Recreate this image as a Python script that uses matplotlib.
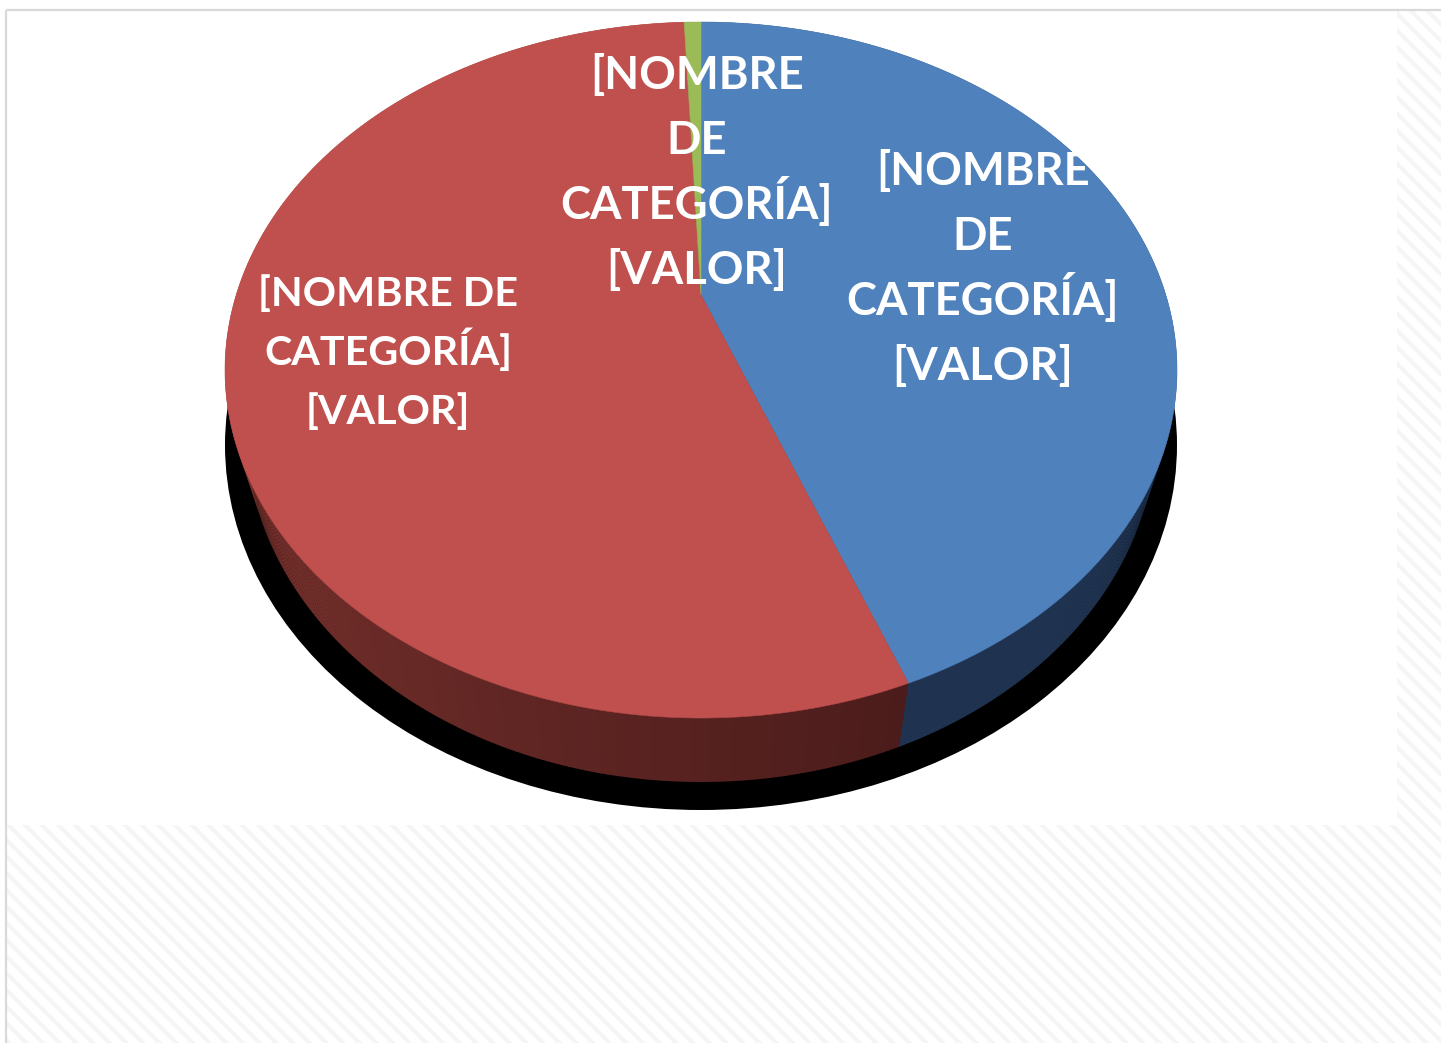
import numpy as np
import matplotlib
matplotlib.use("Agg")
import matplotlib.pyplot as plt
from matplotlib.patches import Ellipse, Polygon, Rectangle
from matplotlib.colors import to_rgb

categories = ["Azul", "Rojo", "Verde"]
values = [44.2, 55.1, 0.7]
colors = ["#4f81bd", "#c0504d", "#9bbb59"]
label_lines = [["[NOMBRE", "DE", "CATEGORÍA]", "[VALOR]"],
               ["[NOMBRE DE", "CATEGORÍA]", "[VALOR]"],
               ["[NOMBRE", "DE", "CATEGORÍA]", "[VALOR]"]]

W, H = 1441, 1043
plt.rcParams['hatch.linewidth'] = 3.0
fig = plt.figure(figsize=(W / 100, H / 100), dpi=100, facecolor="white")

# page background: hatched surround, white chart area, thin grey border
bg = fig.add_axes([0, 0, 1, 1], zorder=0)
bg.set_xlim(0, W); bg.set_ylim(H, 0); bg.axis("off")
bg.add_patch(Rectangle((6, 10), W, H, facecolor="white", edgecolor="#f5f5f5", hatch="\\\\", lw=0))
bg.add_patch(Rectangle((7, 11), 1390, 814, facecolor="white", edgecolor="none"))
bg.plot([6, 6], [H, 10], color="#d9d9d9", lw=1.6, solid_capstyle="butt")
bg.plot([5.5, W], [10, 10], color="#d9d9d9", lw=1.6, solid_capstyle="butt")

# pie axes: the unit circle fills this box, squashed into the ellipse
cx, cy, rx, ry = 701, 370, 476, 348
ax = fig.add_axes([(cx - rx) / W, (H - cy - ry) / H, 2 * rx / W, 2 * ry / H], zorder=1)
ax.set_xlim(-1, 1); ax.set_ylim(-1, 1); ax.axis("off")

# perspective: projective map of the disc that moves the pie centre up to y=295 px
c = (cy - 295) / ry
def warp(x, y):
    d = 1 + c * y
    return x * np.sqrt(1 - c * c) / d, (y + c) / d

# shadow
ax.add_patch(Ellipse((0, -(445 - cy) / ry), 2.0, 2 * 365 / ry, facecolor="black",
                     edgecolor="none", clip_on=False, zorder=1))

edges = np.concatenate([[0], np.cumsum(values)]) / np.sum(values) * 2 * np.pi

# side wall, built slice by slice from the values
wall_rx, wall_cy, wall_ry = 455 / rx, -(429 - cy) / ry, 353 / ry
wall_pairs = {"#4f81bd": ("#22384f", "#1f3350"), "#c0504d": ("#4b1c1b", "#964039"), "#9bbb59": ("#5d7035", "#5d7035")}
for a0, a1, col in zip(edges[:-1], edges[1:], colors):
    c0, c1 = (np.array(to_rgb(k)) for k in wall_pairs[col])
    n = max(2, int((a1 - a0) / 0.01))
    t = np.linspace(a0, a1, n + 1)
    for i in range(n):
        th = np.linspace(t[i], t[i + 1] + 0.002, 3)
        xt, yt = warp(np.sin(th), np.cos(th))
        top = np.column_stack([xt, yt])
        bot = np.column_stack([wall_rx * xt, wall_cy + wall_ry * yt])
        f = np.clip(((t[i] + t[i + 1]) / 2 - a0) / (a1 - a0) * 1.4, 0, 1)
        ax.add_patch(Polygon(np.vstack([top, bot[::-1]]), closed=True, facecolor=c0 + (c1 - c0) * f,
                             edgecolor="none", clip_on=False, zorder=2))

# top face
for a0, a1, col in zip(edges[:-1], edges[1:], colors):
    th = np.linspace(a0, a1, 240)
    xr, yr = warp(np.sin(th), np.cos(th))
    x0, y0 = warp(0.0, 0.0)
    pts = np.vstack([[x0, y0], np.column_stack([xr, yr])])
    ax.add_patch(Polygon(pts, closed=True, facecolor=col, edgecolor=col, lw=0.4,
                         clip_on=False, zorder=3))

# labels: x centre, baselines of each line, size
label_x = [983, 388, 697]
label_base = [[185, 250, 315, 380], [306, 365, 424], [89, 154, 219, 284]]
label_size = [32.7, 29.7, 32.7]
for x, bases, lines, fs in zip(label_x, label_base, label_lines, label_size):
    for b, line in zip(bases, lines):
        fig.text(x / W, 1 - b / H, line, color="white", family="Lato", weight="bold",
                 fontsize=fs, ha="center", va="baseline", zorder=5)

fig.savefig("out.png", dpi=100, facecolor="white")
